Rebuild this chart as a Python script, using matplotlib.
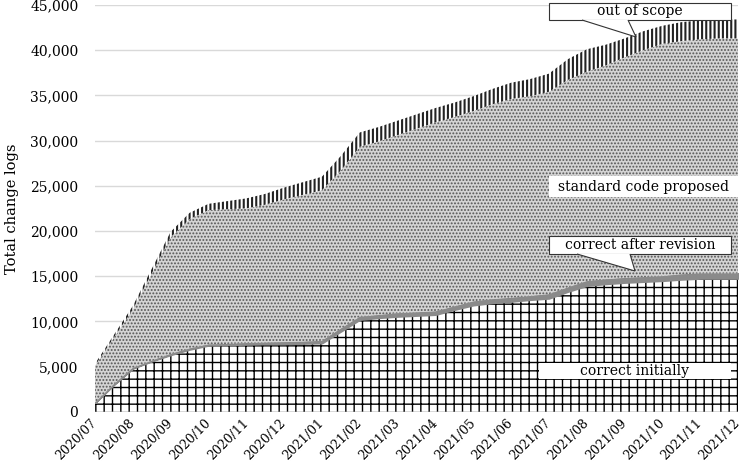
import numpy as np
import matplotlib
matplotlib.use("Agg")
import matplotlib.pyplot as plt
from matplotlib.patches import Polygon

# month labels on the x axis
month_labels = ['2020/07', '2020/08', '2020/09', '2020/10', '2020/11', '2020/12',
                '2021/01', '2021/02', '2021/03', '2021/04', '2021/05', '2021/06',
                '2021/07', '2021/08', '2021/09', '2021/10', '2021/11', '2021/12']

# stacked layers, sampled twice a month (start and middle of each month)
correct_initially = [1000, 3000, 4800, 5600, 6300, 6900, 7350, 7400, 7450, 7500,
                     7500, 7550, 7600, 8900, 10200, 10400, 10550, 10650, 10750, 11300,
                     11800, 12050, 12200, 12400, 12550, 13300, 13950, 14150, 14300, 14400,
                     14500, 14650, 14750, 14750, 14750]
correct_after_revision = [0, 50, 50, 50, 100, 100, 100, 100, 150, 150,
                          200, 200, 250, 300, 300, 300, 350, 350, 350, 350,
                          400, 400, 400, 400, 450, 450, 500, 500, 500, 500,
                          500, 550, 550, 550, 550]
standard_code_proposed = [4100, 5150, 6450, 9650, 12900, 14300, 14850, 14900, 14900, 15250,
                          15800, 16250, 16650, 17500, 18800, 19200, 19700, 20300, 20900, 20950,
                          21050, 21550, 22000, 22100, 22400, 22950, 23150, 23650, 24400, 25100,
                          25700, 25800, 25900, 26000, 26000]
out_of_scope = [200, 300, 400, 500, 600, 700, 700, 900, 1100, 1200,
                1300, 1400, 1500, 1600, 1600, 1600, 1600, 1600, 1600, 1600,
                1650, 1700, 1800, 1900, 2000, 2300, 2500, 2300, 2100, 2100,
                2000, 2100, 2100, 2100, 2100]

x = np.arange(len(correct_initially)) * 0.5

FONT = 'DejaVu Serif'
plt.rcParams['font.family'] = FONT
plt.rcParams['font.size'] = 10

L, R, T, B = 95, 738, 5, 411.7
fig = plt.figure(figsize=(7.44, 4.68), dpi=100)
ax = fig.add_axes([L / 744, 1 - B / 468, (R - L) / 744, (B - T) / 468])

b0 = np.zeros(len(x))
b1 = b0 + np.array(correct_initially)
b2 = b1 + np.array(correct_after_revision)
b3 = b2 + np.array(standard_code_proposed)
b4 = b3 + np.array(out_of_scope)

ax.set_axisbelow(True)
ax.yaxis.grid(True, color='#d9d9d9', linewidth=1)

with plt.rc_context({'hatch.linewidth': 1.0}):
    ax.fill_between(x, b0, b1, facecolor='white', edgecolor='black', hatch='++', linewidth=0)
ax.fill_between(x, b1, b2, facecolor='#8a8a8a', edgecolor='#8a8a8a', linewidth=1.4)
with plt.rc_context({'hatch.linewidth': 0.9}):
    ax.fill_between(x, b2, b3, facecolor='#d4d4d4', edgecolor='#555555', hatch='.....', linewidth=0)
with plt.rc_context({'hatch.linewidth': 1.5}):
    ax.fill_between(x, b3, b4, facecolor='white', edgecolor='#222222', hatch='||||', linewidth=0)

ax.set_xlim(0, 17)
ax.set_ylim(0, 45000)
ax.set_xticks(range(len(month_labels)))
ax.set_xticklabels(month_labels, rotation=45, ha='right', va='center',
                   rotation_mode='anchor', fontsize=9)
ax.set_yticks(range(0, 45001, 5000))
ax.set_yticklabels(['{:,}'.format(v) for v in range(0, 45001, 5000)])
ax.tick_params(length=0)
ax.tick_params(axis='x', pad=7)
ax.tick_params(axis='y', pad=12)
for s in ax.spines.values():
    s.set_visible(False)
ax.set_ylabel('Total change logs', fontsize=10.5, labelpad=8)

xs = (R - L) / 17.0


def px(xp, yp):
    # figure pixel (top-left origin) -> data coords
    return ((xp - L) / xs, (B - yp) / (B - T) * 45000)


def callout(text, box, base, tip):
    (x0, y0), (x1, y1) = px(*box[0]), px(*box[1])
    rect = plt.Rectangle((x0, y1), x1 - x0, y0 - y1, facecolor='white',
                         edgecolor='#333333', linewidth=0.8, clip_on=False, zorder=5)
    ax.add_patch(rect)
    pts = [px(*base[0]), px(*tip), px(*base[1])]
    ax.add_patch(Polygon(pts, closed=True, facecolor='white', edgecolor='none',
                         clip_on=False, zorder=5.5))
    ax.add_patch(Polygon(pts, closed=False, fill=False, edgecolor='#333333',
                         linewidth=0.8, clip_on=False, zorder=6))
    ax.text((x0 + x1) / 2, (y0 + y1) / 2, text, ha='center', va='center',
            fontsize=10, zorder=7, clip_on=False)


callout('out of scope', ((549, 3), (731, 20)), ((582, 20), (628, 20)), (636, 37))
callout('correct after revision', ((549, 236), (731, 254)), ((577, 254), (630, 254)), (635, 271))

for text, box in [('standard code proposed', ((549, 176), (738, 197))),
                  ('correct initially', ((539, 363), (731, 379)))]:
    (x0, y0), (x1, y1) = px(*box[0]), px(*box[1])
    ax.add_patch(plt.Rectangle((x0, y1), x1 - x0, y0 - y1, facecolor='white',
                               edgecolor='none', zorder=5))
    ax.text((x0 + x1) / 2, (y0 + y1) / 2, text, ha='center', va='center',
            fontsize=10, zorder=7)

fig.savefig('out.png', dpi=100)
